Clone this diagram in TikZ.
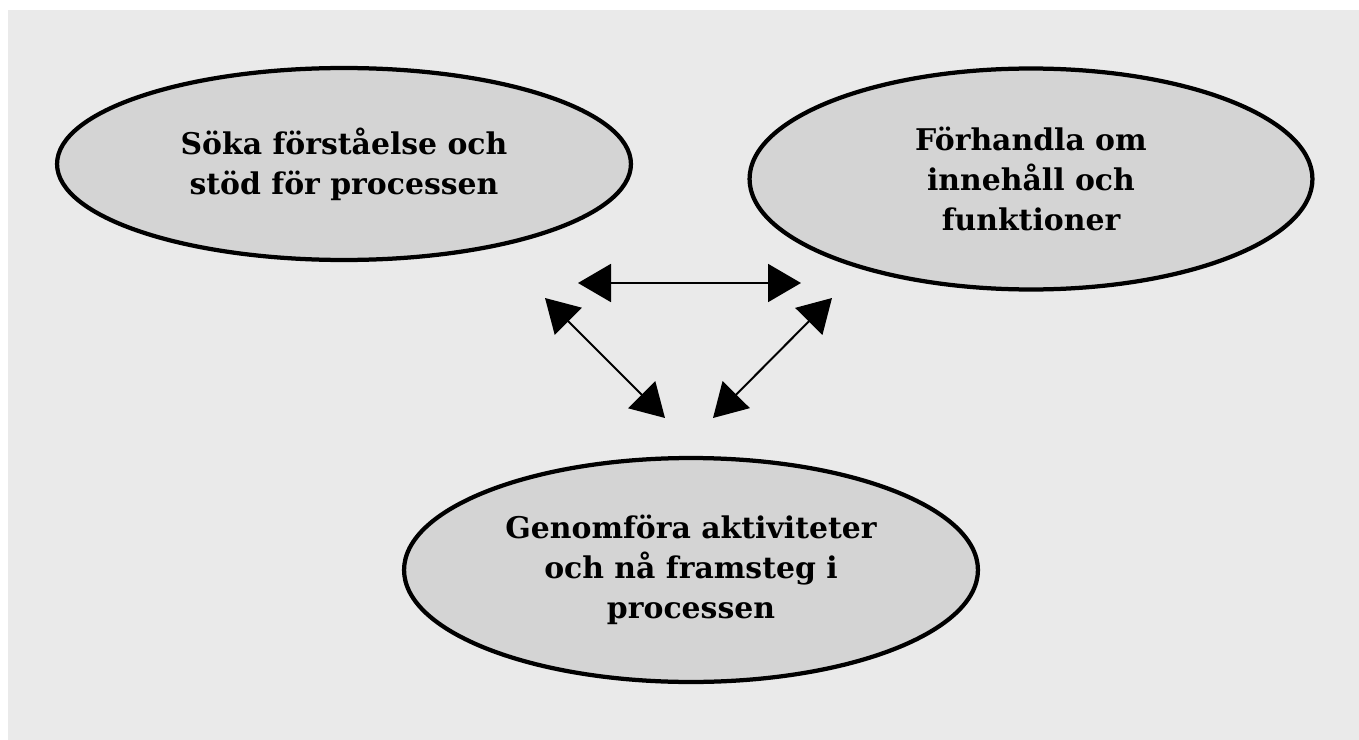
\documentclass[tikz,border=0pt]{standalone}
\usepackage{fontspec}
\setmainfont{DejaVu Serif}
\usetikzlibrary{shapes.geometric,arrows.meta}
\definecolor{bggray}{RGB}{234,234,234}
\definecolor{fillgray}{RGB}{212,212,212}
\tikzset{
    phase/.style={ellipse, draw, line width=0.085cm, fill=fillgray, align=center, inner sep=0pt,
        font=\bfseries\fontsize{17}{22.8}\selectfont},
    link/.style={line width=0.04cm, >={Triangle[length=0.66cm,width=0.76cm]}, <->}
}
\begin{document}
\begin{tikzpicture}[x=0.02cm,y=-0.02cm]
    \useasboundingbox (0,0) rectangle (1359,740);
    \fill[bggray] (8,10) rectangle (1359,740);

    \node[phase, minimum width=11.48cm, minimum height=3.84cm] (soka) at (344,164) {Söka förståelse och\\stöd för processen};
    \node[phase, minimum width=11.26cm, minimum height=4.42cm] (forhandla) at (1031,179) {Förhandla om\\innehåll och\\funktioner};
    \node[phase, minimum width=11.48cm, minimum height=4.48cm] (genomfora) at (691,570) {Genomföra aktiviteter\\och nå framsteg i\\processen};

    \coordinate (h1) at (578,283);
    \coordinate (h2) at (801,283);
    \coordinate (v1) at (545,298);
    \coordinate (v2) at (665,418);
    \coordinate (r1) at (832,298);
    \coordinate (r2) at (713,418);

    \draw[link] (h1) -- (h2);
    \draw[link] (v1) -- (v2);
    \draw[link] (r1) -- (r2);
\end{tikzpicture}
\end{document}
